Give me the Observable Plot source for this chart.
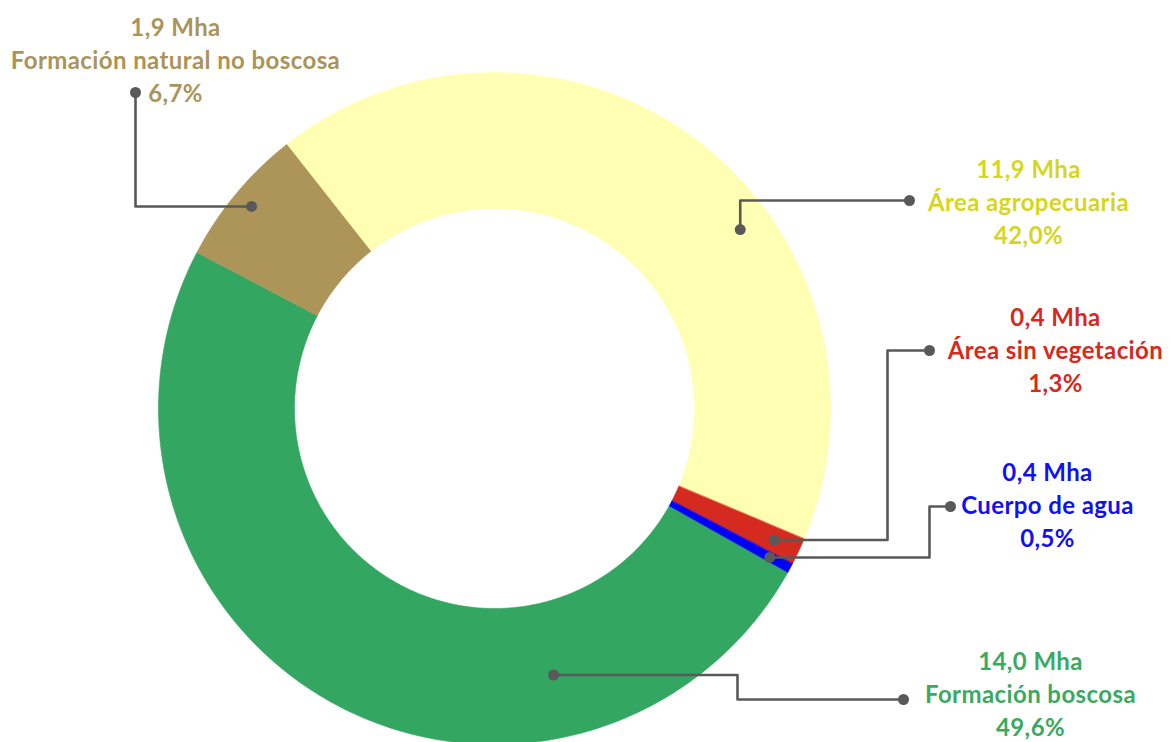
<!DOCTYPE html>
<html>
<head>
<meta charset="utf-8">
<script src="https://cdn.jsdelivr.net/npm/d3@7"></script>
<script src="https://cdn.jsdelivr.net/npm/@observablehq/plot@0.6"></script>
<style>
  html, body { margin: 0; padding: 0; background: #ffffff; }
  #chart svg { display: block; font-family: Lato, "Open Sans", sans-serif; }
  #chart text { letter-spacing: 0.4px; }
</style>
</head>
<body>
<div id="chart"></div>
<script>
// ---- Data ----
const categories = ["Área agropecuaria", "Área sin vegetación", "Cuerpo de agua", "Formación boscosa", "Formación natural no boscosa"];
const areaMha = [11.9, 0.4, 0.4, 14.0, 1.9];
const percent = [42.0, 1.3, 0.5, 49.6, 6.7];

// ---- Styles ----
const fillColors = ["#FFFFB4", "#D42A20", "#0000FF", "#33A661", "#AD955A"];
const textColors = ["#D6D61E", "#D42A20", "#1010F2", "#3AAA63", "#AA945A"];

// ---- Layout (pixels) ----
const W = 1171, H = 742;
const cx = 494, cy = 408, rOuter = 336, rInner = 200;
const startDeg = -38.2;
// label block centers (middle line)
const labelPos = [[1028, 200], [1055, 348], [1047, 503], [1030, 692], [175, 58]];
// leader: anchor as fraction along arc + radius, then waypoints (null = keep previous)
const leaderAnchor = [[0.61, 304], [0.5, 309], [0.5, 313], [0.27, 273], [0.5, 316]];
const leaderWays = [
  [[null, 200], [909, null]],
  [[887, null], [null, 350], [929, null]],
  [[929, null], [null, 506], [950, null]],
  [[737, null], [null, 699], [903, null]],
  [[135, null], [null, 92]]
];

const fmt = v => v.toFixed(1).replace(".", ",");

const rows = categories.map((c, i) => ({cat: c, mha: areaMha[i], pct: percent[i], i}));
const pie = d3.pie().sort(null).value(d => d.pct)
  .startAngle(startDeg * Math.PI / 180)
  .endAngle(startDeg * Math.PI / 180 + 2 * Math.PI);
const arcs = pie(rows);

const polar = (a, r) => [cx + r * Math.sin(a), cy - r * Math.cos(a)];

// wedge polygons
const wedgePts = [];
arcs.forEach(a => {
  const n = Math.max(8, Math.ceil((a.endAngle - a.startAngle) / 0.01));
  const pts = [];
  for (let k = 0; k <= n; k++) pts.push(polar(a.startAngle + (a.endAngle - a.startAngle) * k / n, rOuter));
  for (let k = n; k >= 0; k--) pts.push(polar(a.startAngle + (a.endAngle - a.startAngle) * k / n, rInner));
  pts.forEach(p => wedgePts.push({x: p[0], y: p[1], cat: a.data.cat, fill: fillColors[a.data.i]}));
});

// leader lines
const leaderPts = [];
const leaderEnds = [];
arcs.forEach(a => {
  const i = a.data.i;
  const [t, r] = leaderAnchor[i];
  let p = polar(a.startAngle + (a.endAngle - a.startAngle) * t, r);
  leaderPts.push({x: p[0], y: p[1], cat: a.data.cat});
  leaderEnds.push({x: p[0], y: p[1]});
  leaderWays[i].forEach(w => {
    p = [w[0] == null ? p[0] : w[0], w[1] == null ? p[1] : w[1]];
    leaderPts.push({x: p[0], y: p[1], cat: a.data.cat});
  });
  leaderEnds.push({x: p[0], y: p[1]});
});

const labels = rows.map(d => ({
  x: labelPos[d.i][0], y: labelPos[d.i][1],
  text: `${fmt(d.mha)} Mha\n${d.cat}\n${fmt(d.pct)}%`,
  fill: textColors[d.i]
}));

const chart = Plot.plot({
  width: W, height: H,
  margin: 0,
  x: {domain: [0, W], axis: null},
  y: {domain: [0, H], reverse: true, axis: null},
  color: {type: "identity"},
  marks: [
    Plot.line(wedgePts, {x: "x", y: "y", z: "cat", fill: "fill", stroke: "fill", strokeWidth: 0.6, curve: "linear-closed"}),
    Plot.line(leaderPts, {x: "x", y: "y", z: "cat", stroke: "#595959", strokeWidth: 2.6}),
    Plot.dot(leaderEnds, {x: "x", y: "y", r: 5.5, fill: "#595959", stroke: null}),
    Plot.text(labels, {x: "x", y: "y", text: "text", fill: "fill", fontSize: 24, fontWeight: "bold", lineHeight: 1.38, textAnchor: "middle"})
  ]
});
document.getElementById("chart").appendChild(chart);
</script>
</body>
</html>
